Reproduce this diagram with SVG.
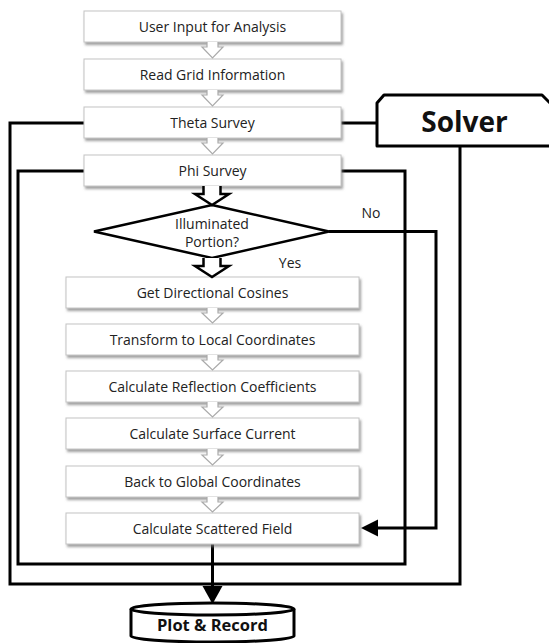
<svg xmlns="http://www.w3.org/2000/svg" width="549" height="643" viewBox="0 0 549 643">
<defs>
<filter id="sh" x="-5%" y="-20%" width="115%" height="160%">
<feDropShadow dx="1.5" dy="2.5" stdDeviation="1.2" flood-color="#777" flood-opacity="0.7"/>
</filter>
</defs>
<style>
.box{fill:#fff;stroke:#c4c4c4;stroke-width:1;filter:url(#sh)}
.t{font-family:"Open Sans","Noto Sans",sans-serif;font-size:14px;fill:#222;text-anchor:middle}
.sa{fill:#fff;stroke:#aaa;stroke-width:1.2}
.ba{fill:#fff;stroke:#000;stroke-width:2.5;stroke-linejoin:miter}
.ln{fill:none;stroke:#000;stroke-width:3}
.b{font-family:"Open Sans","Noto Sans",sans-serif;font-weight:bold;fill:#111;text-anchor:middle}
</style>
<rect width="549" height="643" fill="#fff"/>

<g id="connectors">
<polyline class="ln" points="84,123 10,123 10,584 460,584 460,146"/>
<line class="ln" x1="341" y1="123" x2="377" y2="123"/>
<polyline class="ln" points="84,171 18,171 18,564 405,564 405,171 341,171"/>
<polyline class="ln" points="329,231.5 436,231.5 436,528 375,528"/>
<polygon points="361,528 378,519.5 378,536.5" fill="#000"/>
<line class="ln" x1="212.5" y1="544" x2="212.5" y2="590"/>
<polygon points="202.5,586 222.5,586 212.5,604" fill="#000"/>
</g>

<g id="n1"><rect class="box" x="84" y="11" width="257" height="31"/><text class="t" x="212.5" y="31.5">User Input for Analysis</text></g>
<g id="n2"><rect class="box" x="84" y="59" width="257" height="31"/><text class="t" x="212.5" y="79.5">Read Grid Information</text></g>
<g id="n3"><rect class="box" x="84" y="107" width="257" height="31"/><text class="t" x="212.5" y="127.5">Theta Survey</text></g>
<g id="n4"><rect class="box" x="84" y="155" width="257" height="31"/><text class="t" x="212.5" y="175.5">Phi Survey</text></g>

<g id="solver">
<path d="M549,146 L377,146 L377,103 L384,95 L542,95 L550,103" fill="#fff" stroke="#000" stroke-width="3" stroke-linejoin="round"/>
<text class="b" x="464.5" y="132" font-size="28">Solver</text>
</g>

<g id="decision">
<polygon points="212,205 329,231.5 212,258 94,231.5" fill="#fff" stroke="#000" stroke-width="2.5"/>
<text class="t" x="212" y="229">Illuminated</text>
<text class="t" x="212" y="247">Portion?</text>
</g>
<text class="t" x="371" y="218">No</text>
<text class="t" x="290" y="268">Yes</text>

<g id="n5"><rect class="box" x="66" y="277" width="293" height="31"/><text class="t" x="212.5" y="297.5">Get Directional Cosines</text></g>
<g id="n6"><rect class="box" x="66" y="324" width="293" height="31"/><text class="t" x="212.5" y="344.5">Transform to Local Coordinates</text></g>
<g id="n7"><rect class="box" x="66" y="371" width="293" height="31"/><text class="t" x="212.5" y="391.5">Calculate Reflection Coefficients</text></g>
<g id="n8"><rect class="box" x="66" y="418" width="293" height="31"/><text class="t" x="212.5" y="438.5">Calculate Surface Current</text></g>
<g id="n9"><rect class="box" x="66" y="466" width="293" height="31"/><text class="t" x="212.5" y="486.5">Back to Global Coordinates</text></g>
<g id="n10"><rect class="box" x="66" y="513" width="293" height="31"/><text class="t" x="212.5" y="533.5">Calculate Scattered Field</text></g>

<g id="flow-arrows">
<path class="sa" d="M207,42 L207,47 L202,47 L212.5,58 L223,47 L218,47 L218,42"/>
<path class="sa" d="M207,90 L207,95 L202,95 L212.5,106 L223,95 L218,95 L218,90"/>
<path class="sa" d="M207,138 L207,143 L202,143 L212.5,154 L223,143 L218,143 L218,138"/>
<path class="ba" d="M203.5,186 L203.5,194 L195,194 L212,205 L229,194 L220.5,194 L220.5,186"/>
<path class="ba" d="M203.5,258 L203.5,266 L195,266 L212,277 L229,266 L220.5,266 L220.5,258"/>
<path class="sa" d="M207,308 L207,313 L202,313 L212.5,323 L223,313 L218,313 L218,308"/>
<path class="sa" d="M207,355 L207,360 L202,360 L212.5,370 L223,360 L218,360 L218,355"/>
<path class="sa" d="M207,402 L207,407 L202,407 L212.5,417 L223,407 L218,407 L218,402"/>
<path class="sa" d="M207,449 L207,455 L202,455 L212.5,465 L223,455 L218,455 L218,449"/>
<path class="sa" d="M207,497 L207,502 L202,502 L212.5,512 L223,502 L218,502 L218,497"/>
</g>

<g id="plot">
<path d="M131,609 L131,636 A81.5,6 0 0 0 294,636 L294,609" fill="#fff" stroke="#000" stroke-width="3"/>
<ellipse cx="212.5" cy="609" rx="81.5" ry="6" fill="#fff" stroke="#000" stroke-width="3"/>
<text class="b" x="212.5" y="631" font-size="16.5">Plot &amp; Record</text>
</g>
</svg>
